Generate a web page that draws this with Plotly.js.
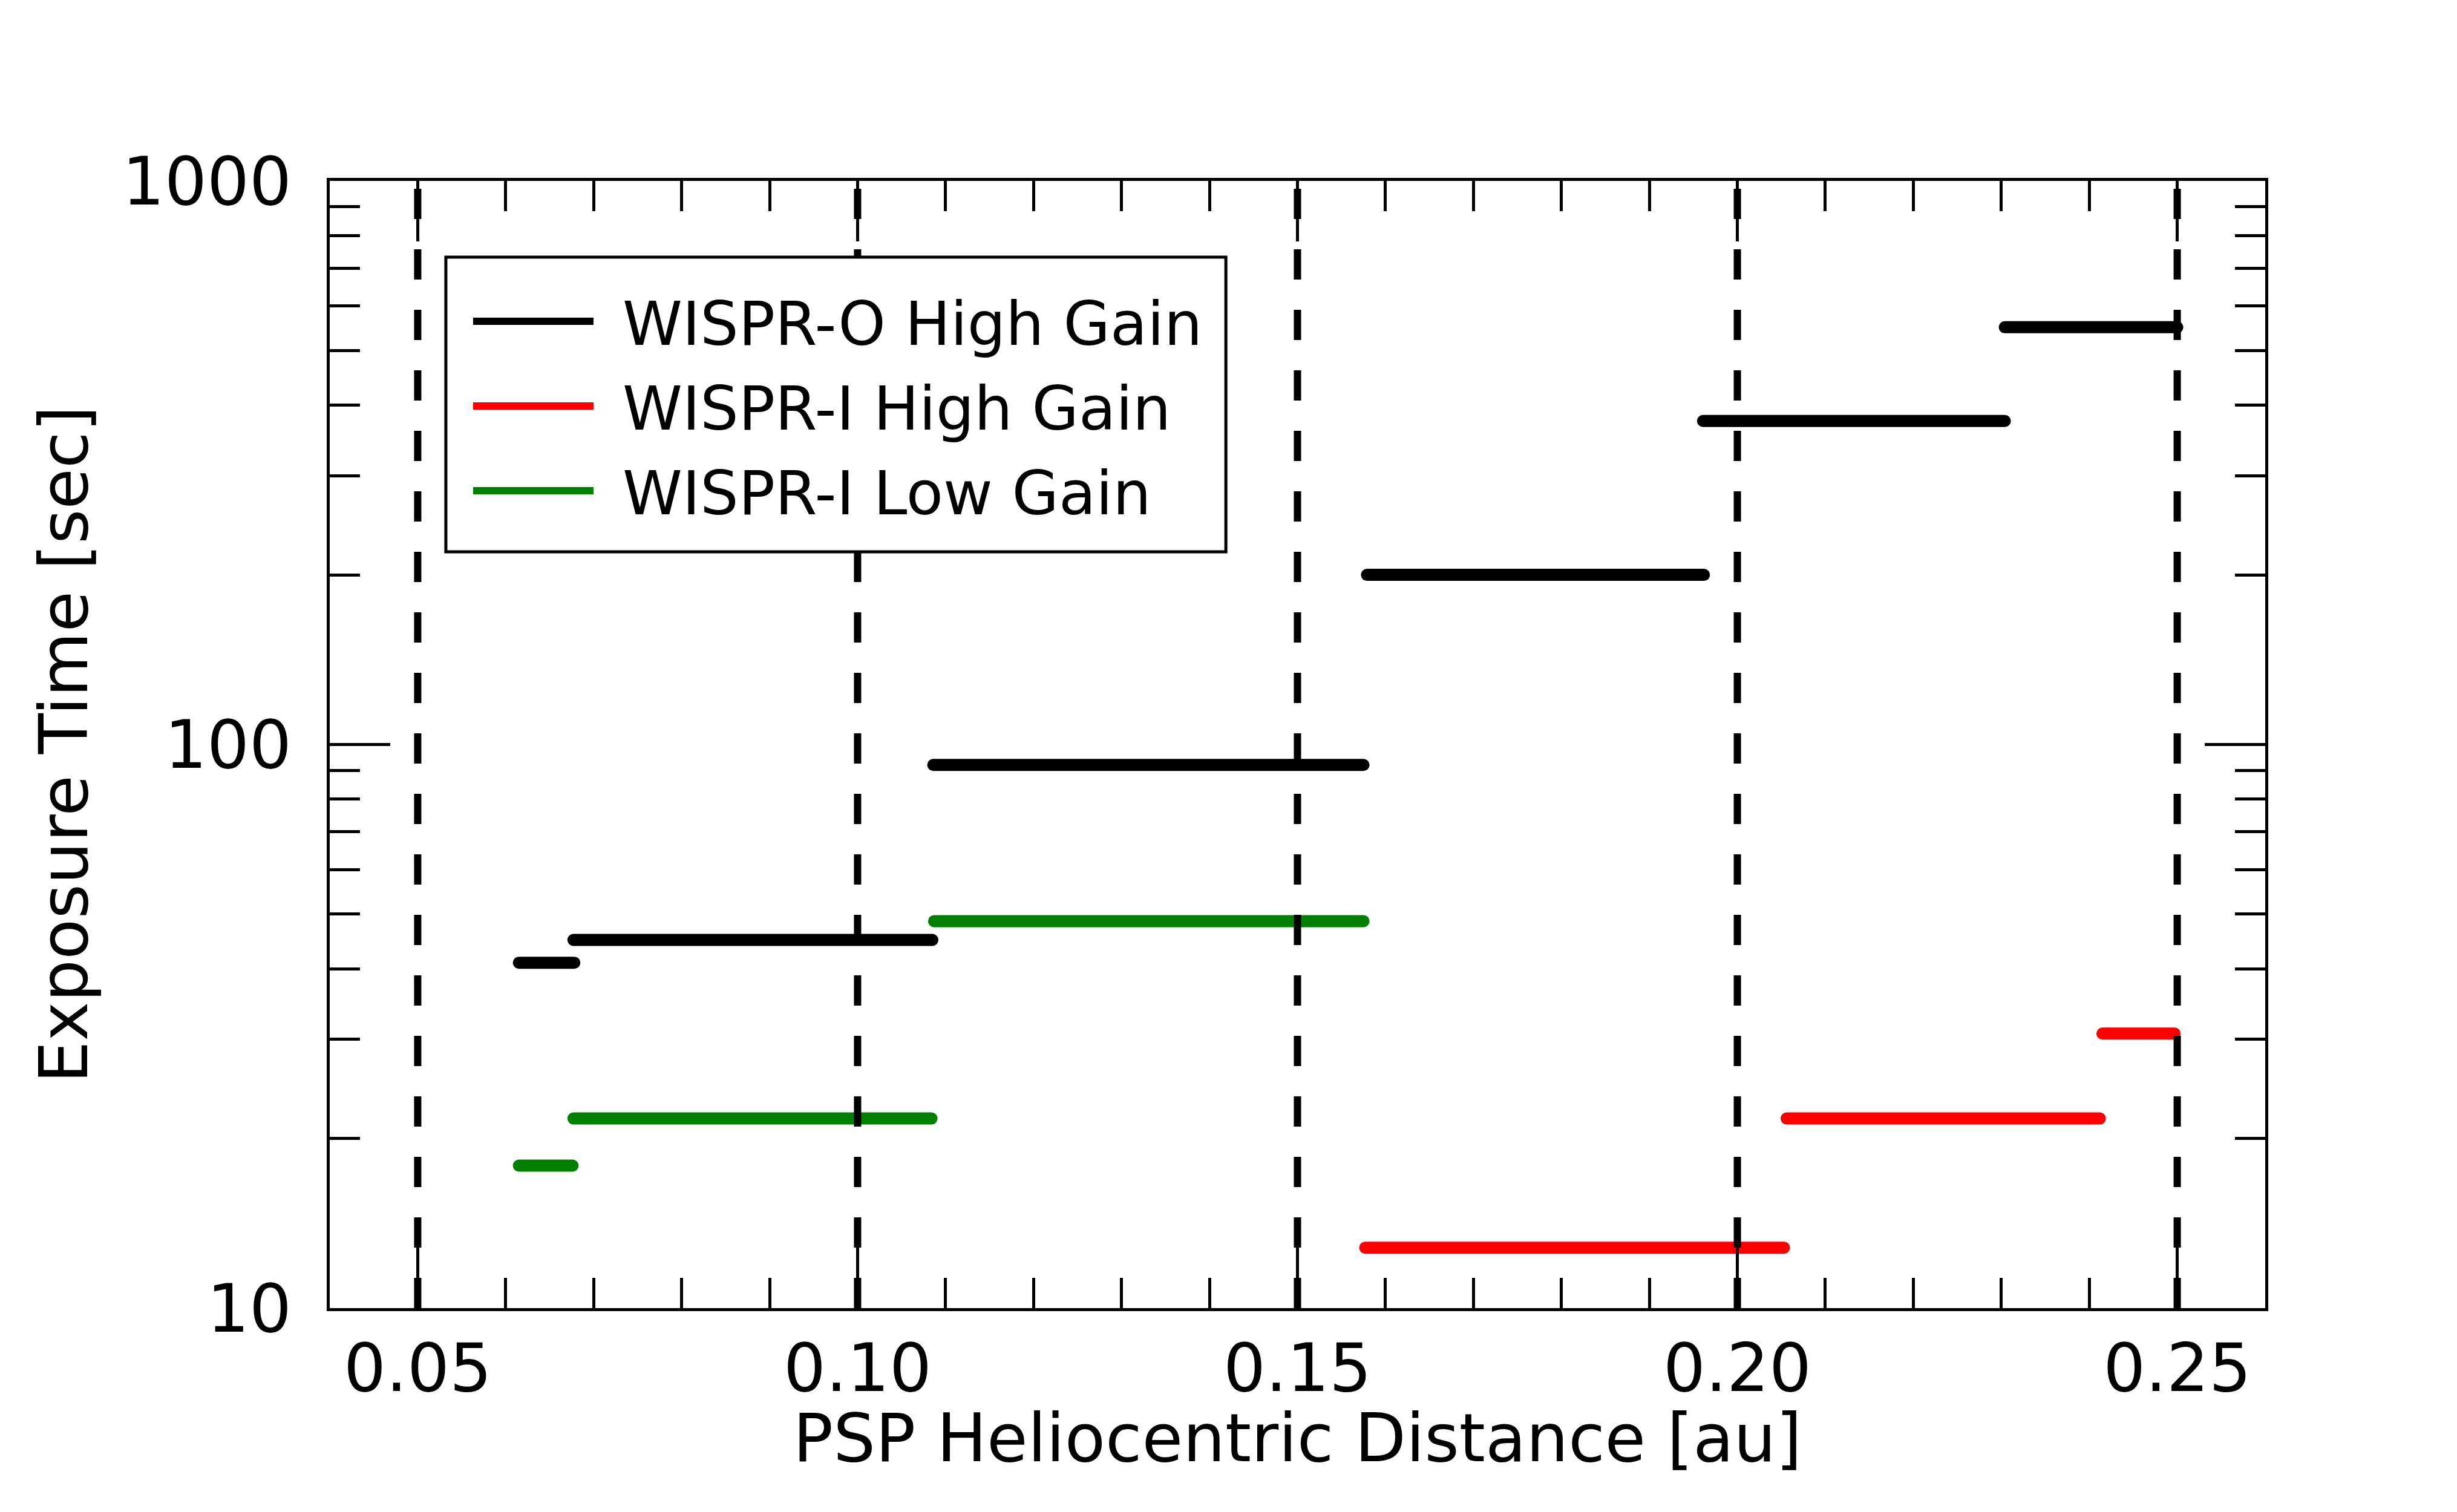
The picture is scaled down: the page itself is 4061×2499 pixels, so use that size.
<!DOCTYPE html>
<html>
<head>
<meta charset="utf-8">
<script src="https://cdn.plot.ly/plotly-3.0.1.min.js"></script>
<style>
  html, body { margin: 0; padding: 0; background: #fff; }
  #chart { width: 4061px; height: 2499px; }
  .scatterlayer .trace:nth-child(-n+3) path.js-line { stroke-linecap: round; }
  .legend path.js-line { stroke-width: 12px !important; stroke-dasharray: 199px, 5000px !important; }
  .g-xtitle { transform: translateY(-91px); }
</style>
</head>
<body>
<div id="chart"></div>
<script>
// WISPR-O High Gain: segment start/end distances [au] and exposure [sec]
const woStart = [0.0615, 0.0677, 0.1086, 0.1579, 0.1961, 0.2304];
const woEnd   = [0.0678, 0.1085, 0.1575, 0.1962, 0.2304, 0.2500];
const woExp   = [41, 45, 92, 200, 375, 550];

// WISPR-I High Gain
const wiHighStart = [0.1577, 0.2056, 0.2415];
const wiHighEnd   = [0.2053, 0.2412, 0.2497];
const wiHighExp   = [12.8, 21.7, 30.7];

// WISPR-I Low Gain
const wiLowStart = [0.0615, 0.0677, 0.1087];
const wiLowEnd   = [0.0676, 0.1084, 0.1575];
const wiLowExp   = [17.9, 21.7, 48.6];

// Reference (dashed) distances
const refDistances = [0.05, 0.10, 0.15, 0.20, 0.25];

const seriesNames = ['WISPR-O High Gain', 'WISPR-I High Gain', 'WISPR-I Low Gain'];
const seriesColors = ['#000000', '#ff0000', '#008000'];

const yTickVals = [10, 100, 1000];
const yTickText = ['10', '100', '1000'];
const yRange = [10, 1000];

function segments(starts, ends, vals) {
  const x = [], y = [];
  for (let i = 0; i < starts.length; i++) {
    x.push(starts[i], ends[i], null);
    y.push(vals[i], vals[i], null);
  }
  return {x, y};
}

const seriesData = [
  segments(woStart, woEnd, woExp),
  segments(wiHighStart, wiHighEnd, wiHighExp),
  segments(wiLowStart, wiLowEnd, wiLowExp)
];

const traces = seriesData.map((s, i) => ({
  type: 'scatter', mode: 'lines',
  x: s.x, y: s.y,
  name: seriesNames[i],
  legendgroup: 'g' + i,
  line: {color: seriesColors[i], width: 20},
  hoverinfo: 'skip'
}));

const refX = [], refY = [];
refDistances.forEach(d => { refX.push(d, d, null); refY.push(yRange[0], yRange[1], null); });
traces.push({
  type: 'scatter', mode: 'lines',
  x: refX, y: refY,
  line: {color: '#000000', width: 12, dash: '50px,50px'},
  showlegend: false, hoverinfo: 'skip'
});

const FONT = 'DejaVu Sans';
const axisCommon = {
  showline: true, linecolor: '#000', linewidth: 5, mirror: 'allticks',
  ticks: 'inside', ticklen: 100, tickwidth: 5, tickcolor: '#000',
  showgrid: false, zeroline: false,
  tickfont: {family: FONT, size: 110, color: '#000'},
  automargin: false
};

const layout = {
  width: 4061, height: 2499,
  paper_bgcolor: '#fff', plot_bgcolor: '#fff',
  margin: {l: 545, r: 317, t: 299, b: 337},
  font: {family: FONT, color: '#000'},
  showlegend: true,
  legend: {
    x: 0.0725, y: 0.9138, xanchor: 'left', yanchor: 'top',
    bgcolor: 'rgba(0,0,0,0)', borderwidth: 0,
    font: {family: FONT, size: 100, color: '#000'},
    itemwidth: 242, tracegroupgap: 7
  },
  shapes: [{
    type: 'rect', xref: 'paper', yref: 'paper',
    x0: 0.0600, x1: 0.4630, y0: 0.6710, y1: 0.9324,
    line: {color: '#000', width: 5}, fillcolor: '#fff', layer: 'above'
  }],
  xaxis: Object.assign({}, axisCommon, {
    range: [0.04, 0.26],
    tick0: 0, dtick: 0.05, tickformat: '.2f',
    minor: {dtick: 0.01, ticks: 'inside', ticklen: 50, tickwidth: 5, tickcolor: '#000'},
    title: {text: 'PSP Heliocentric Distance [au]', font: {family: FONT, size: 110, color: '#000'}}
  }),
  yaxis: Object.assign({}, axisCommon, {
    type: 'log', range: [1, 3],
    tickmode: 'array', tickvals: yTickVals, ticktext: yTickText,
    ticklabelstandoff: 36,
    minor: {tickmode: 'linear', dtick: 'D1', ticks: 'inside', ticklen: 50, tickwidth: 5, tickcolor: '#000'},
    title: {text: 'Exposure Time [sec]', font: {family: FONT, size: 110, color: '#000'}, standoff: 22}
  })
};

Plotly.newPlot('chart', traces, layout, {displayModeBar: false, staticPlot: true});
</script>
</body>
</html>
